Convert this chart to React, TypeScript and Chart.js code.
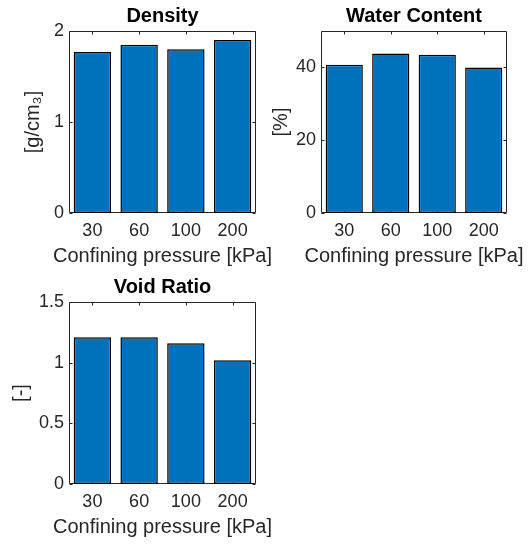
import React, { useEffect, useRef } from 'react';
import { Chart, registerables } from 'chart.js';

Chart.register(...registerables);

// ---- data ----
const categories = ['30', '60', '100', '200'];
const densityValues = [1.77, 1.85, 1.80, 1.90];
const waterValues = [40.7, 43.8, 43.5, 40.0];
const voidValues = [1.21, 1.21, 1.16, 1.02];
const densityTicks = [0, 1, 2];
const waterTicks = [0, 20, 40];
const voidTicks = [0, 0.5, 1, 1.5];
const xLabel = 'Confining pressure [kPa]';

const FONT = "'Liberation Sans', Arial, Helvetica, sans-serif";
const BAR = '#0072BD';
const AXIS = '#262626';

const boxPlugin = {
  id: 'matlabBox',
  beforeDatasetsDraw(chart: any) {
    const { ctx, chartArea: a, scales } = chart;
    const L = 3;
    const l = Math.round(a.left) + 0.5;
    const r = Math.round(a.right) - 0.5;
    const t = Math.round(a.top) + 0.5;
    const b = Math.round(a.bottom) - 0.5;
    ctx.save();
    ctx.strokeStyle = AXIS;
    ctx.lineWidth = 1;
    ctx.beginPath();
    ctx.rect(l, t, r - l, b - t);
    scales.y.ticks.forEach((tk: any) => {
      const py = Math.round(scales.y.getPixelForValue(tk.value)) + 0.5;
      ctx.moveTo(l, py); ctx.lineTo(l + L, py);
      ctx.moveTo(r, py); ctx.lineTo(r - L, py);
    });
    scales.x.ticks.forEach((_: any, i: number) => {
      const px = Math.round(scales.x.getPixelForTick(i)) + 0.5;
      ctx.moveTo(px, t); ctx.lineTo(px, t + L);
      ctx.moveTo(px, b); ctx.lineTo(px, b - L);
    });
    ctx.stroke();
    ctx.restore();
  },
  afterDraw(chart: any) {
    // x-axis label, centred under the plot box, drawn at natural width
    const { ctx, chartArea: a } = chart;
    ctx.save();
    ctx.font = `20px ${FONT}`;
    ctx.fillStyle = AXIS;
    ctx.textAlign = 'center';
    ctx.textBaseline = 'alphabetic';
    ctx.fillText(xLabel, (a.left + a.right) / 2, a.bottom + 48.5);
    ctx.restore();
  },
};

type PanelProps = {
  title: string;
  yLabel: string;
  values: number[];
  ticks: number[];
  min: number;
  max: number;
  left: number;
  top: number;
  width: number;
  height: number;
  yWidth: number;
  padRight: number;
  yTitlePad: number;
  xHeight: number;
};

function Panel(p: PanelProps) {
  const ref = useRef<HTMLCanvasElement | null>(null);
  useEffect(() => {
    if (!ref.current) return;
    const chart = new Chart(ref.current, {
      type: 'bar',
      data: {
        labels: categories,
        datasets: [
          {
            data: p.values,
            backgroundColor: BAR,
            borderColor: '#000000',
            borderWidth: 1.5,
            borderSkipped: false,
            barPercentage: 0.8,
            categoryPercentage: 1.0,
          },
        ],
      },
      options: {
        animation: false,
        responsive: false,
        maintainAspectRatio: false,
        devicePixelRatio: 1,
        events: [],
        layout: { padding: { left: 0, right: p.padRight, top: 0, bottom: 0 } },
        plugins: {
          legend: { display: false },
          tooltip: { enabled: false },
          title: { display: false },
        },
        scales: {
          x: {
            type: 'category',
            position: 'bottom',
            offset: true,
            grid: { display: false, drawTicks: false },
            border: { display: false },
            ticks: {
              color: AXIS,
              font: { family: FONT, size: 18 },
              padding: 7,
              maxRotation: 0,
              autoSkip: false,
            },
            title: { display: false },
            afterFit: (s: any) => {
              s.height = p.xHeight;
            },
          },
          top: {
            axis: 'x',
            type: 'category',
            position: 'top',
            grid: { display: false, drawTicks: false },
            border: { display: false },
            ticks: { display: false },
            title: {
              display: true,
              text: p.title,
              color: '#000000',
              font: { family: FONT, size: 20, weight: 'bold' },
              padding: { top: 4, bottom: 0 },
            },
            afterFit: (s: any) => {
              s.height = 31;
            },
          },
          y: {
            type: 'linear',
            position: 'left',
            min: p.min,
            max: p.max,
            afterBuildTicks: (s: any) => {
              s.ticks = p.ticks.map((v) => ({ value: v }));
            },
            grid: { display: false, drawTicks: false },
            border: { display: false },
            ticks: {
              color: AXIS,
              font: { family: FONT, size: 18 },
              padding: 5,
              callback: (v: any) => String(Number(v)),
            },
            title: {
              display: true,
              text: p.yLabel,
              color: AXIS,
              font: { family: FONT, size: 20 },
              padding: { top: p.yTitlePad, bottom: 0 },
            },
            afterFit: (s: any) => {
              s.width = p.yWidth;
            },
          },
        },
      } as any,
      plugins: [boxPlugin],
    });
    return () => chart.destroy();
  }, []);
  return (
    <canvas
      ref={ref}
      width={p.width}
      height={p.height}
      style={{
        position: 'absolute',
        left: p.left,
        top: p.top,
        width: p.width,
        height: p.height,
        display: 'block',
      }}
    />
  );
}

export default function App() {
  return (
    <div
      style={{
        position: 'absolute',
        left: 0,
        top: 0,
        width: 529,
        height: 545,
        background: '#ffffff',
        overflow: 'hidden',
      }}
    >
      <Panel
        title="Density"
        yLabel="[g/cm₃]"
        values={densityValues}
        ticks={densityTicks}
        min={0}
        max={2}
        left={0}
        top={0}
        width={285}
        height={272}
        yWidth={69}
        padRight={29}
        yTitlePad={21}
        xHeight={59}
      />
      <Panel
        title="Water Content"
        yLabel="[%]"
        values={waterValues}
        ticks={waterTicks}
        min={0}
        max={50}
        left={265}
        top={0}
        width={264}
        height={272}
        yWidth={56}
        padRight={22}
        yTitlePad={4}
        xHeight={59}
      />
      <Panel
        title="Void Ratio"
        yLabel="[-]"
        values={voidValues}
        ticks={voidTicks}
        min={0}
        max={1.5}
        left={0}
        top={271}
        width={285}
        height={274}
        yWidth={69}
        padRight={29}
        yTitlePad={9}
        xHeight={61}
      />
    </div>
  );
}
